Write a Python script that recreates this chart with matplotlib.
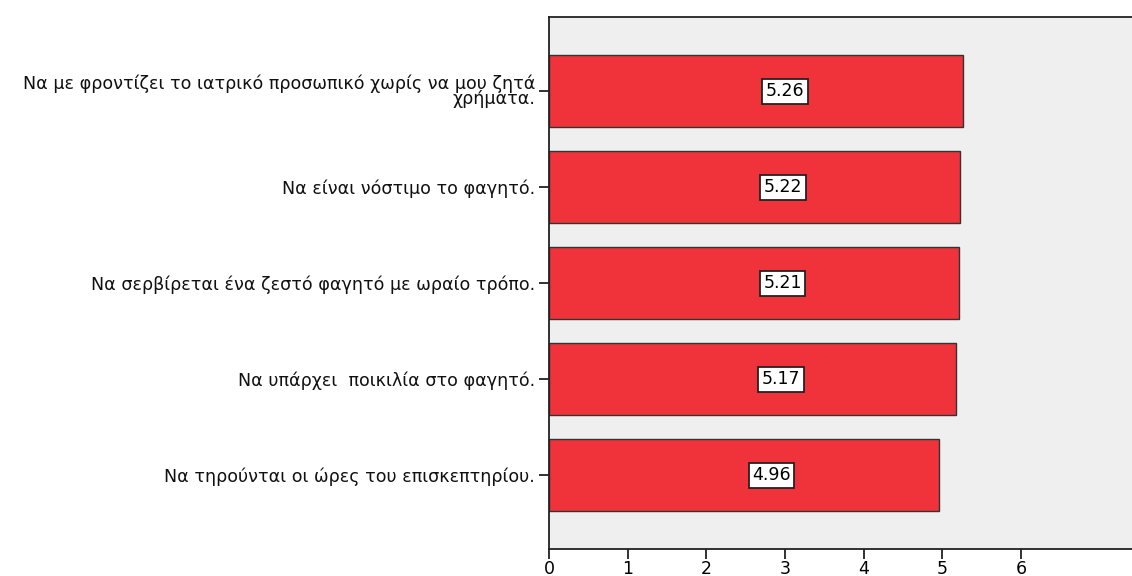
import matplotlib.pyplot as plt

# Δεδομένα
labels = [
    "Να με φροντίζει το ιατρικό προσωπικό χωρίς να μου ζητά\nχρήματα.",
    "Να είναι νόστιμο το φαγητό.",
    "Να σερβίρεται ένα ζεστό φαγητό με ωραίο τρόπο.",
    "Να υπάρχει  ποικιλία στο φαγητό.",
    "Να τηρούνται οι ώρες του επισκεπτηρίου.",
]
values = [5.26, 5.22, 5.21, 5.17, 4.96]
xticks = [0, 1, 2, 3, 4, 5, 6]

plt.rcParams['font.family'] = ['DejaVu Sans']

fig = plt.figure(figsize=(11.32, 5.76), dpi=100)
ax = fig.add_axes([0.485, 0.047, 0.515, 0.923])
ax.set_facecolor('#efefef')

pos = list(range(len(values)))
ax.barh(pos, values, height=0.75, color='#f0323a', edgecolor='#333333', linewidth=1)

# Подписи значений в рамках
for p, v in zip(pos, values):
    ax.text(v * 0.57, p, f"{v:.2f}", ha='center', va='center', fontsize=12.5,
            bbox=dict(boxstyle='square,pad=0.2', facecolor='white', edgecolor='#222222', linewidth=1.3))

ax.set_yticks(pos)
ax.set_yticklabels(labels, fontsize=12.6, ha='right', linespacing=0.78, color='#111111')
ax.set_xticks(xticks)
ax.set_xticklabels([str(t) for t in xticks], fontsize=12.5)
ax.set_xlim(0, 7.41)
ax.set_ylim(4.77, -0.77)

for s in ['left', 'bottom', 'top']:
    ax.spines[s].set_color('#222222')
    ax.spines[s].set_linewidth(1.3)
ax.spines['right'].set_visible(False)
ax.tick_params(axis='both', direction='out', length=7, width=1.3, color='#222222')
ax.tick_params(axis='y', pad=3)
ax.tick_params(axis='x', pad=1)

plt.savefig('out.png', dpi=100)
